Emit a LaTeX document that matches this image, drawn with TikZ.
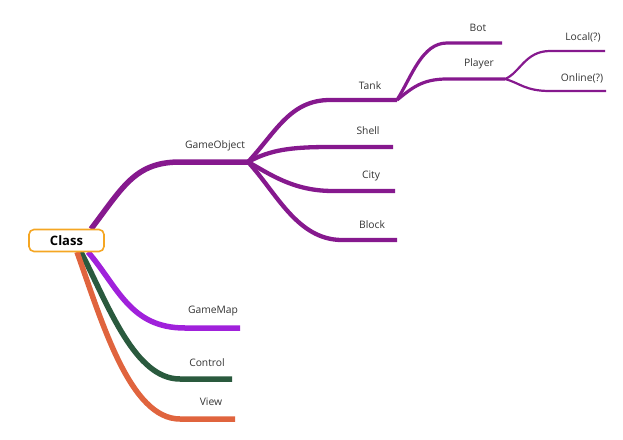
\documentclass[tikz,border=0pt]{standalone}
\usepackage{fontspec}
\setmainfont{Open Sans}
\definecolor{objpurple}{HTML}{86198E}
\definecolor{mapviolet}{HTML}{A021DB}
\definecolor{ctrlgreen}{HTML}{2A5A3E}
\definecolor{vieworange}{HTML}{E0643E}
\definecolor{boxorange}{HTML}{F5A623}
\definecolor{labelgray}{HTML}{333333}
\tikzset{
  lbl/.style={font=\fontsize{10.3}{12}\selectfont, text=labelgray, inner sep=0pt},
  br1/.style={line width=5.5pt, line cap=butt},
  br2/.style={line width=4.3pt, objpurple, line cap=butt},
  br3/.style={line width=3.2pt, objpurple, line cap=butt},
  br4/.style={line width=2.2pt, objpurple, line cap=butt},
  rootbox/.style={draw=boxorange, line width=1.6pt, fill=white, rounded corners=5pt,
    minimum width=75pt, minimum height=22pt, inner sep=0pt,
    font=\fontsize{13}{15}\selectfont\bfseries}
}
\begin{document}
\begin{tikzpicture}[x=1pt,y=-1pt]
\useasboundingbox (0,0) rectangle (623,439);
% coordinates
\coordinate (gos) at (91,229);
\coordinate (gok) at (180,162);
\coordinate (goe) at (248,162);
\coordinate (tk) at (330,100);  \coordinate (te) at (397,100);
\coordinate (sk) at (330,147);  \coordinate (se) at (393,147);
\coordinate (ck) at (333,191);  \coordinate (ce) at (395,191);
\coordinate (bk) at (342,240);  \coordinate (be) at (397,240);
\coordinate (botk) at (447,43); \coordinate (bote) at (502,43);
\coordinate (plk) at (447,79);  \coordinate (ple) at (505,79);
\coordinate (lok) at (550,51);  \coordinate (loe) at (605,51);
\coordinate (onk) at (550,91);  \coordinate (one) at (606,91);
\coordinate (gms) at (88,252);  \coordinate (gmk) at (185,328); \coordinate (gme) at (240,328);
\coordinate (cts) at (81,252);  \coordinate (ctk) at (180,379); \coordinate (cte) at (232,379);
\coordinate (vws) at (77,252);  \coordinate (vwk) at (180,419); \coordinate (vwe) at (235,419);
% lower branches
\draw[br1, ctrlgreen] (cts) .. controls +(28,55) and +(-45,0) .. (ctk) -- (cte);
\draw[br1, vieworange] (vws) .. controls +(25,70) and +(-50,0) .. (vwk) -- (vwe);
\draw[br1, mapviolet] (gms) .. controls +(30,35) and +(-55,0) .. (gmk) -- (gme);
% GameObject
\draw[br1, objpurple] (gos) .. controls +(32,-42) and +(-45,0) .. (gok) -- (goe);
\draw[br2] (goe) .. controls +(28,-30) and +(-40,0) .. (tk) -- (te);
\draw[br2] (goe) .. controls +(22,-12) and +(-40,0) .. (sk) -- (se);
\draw[br2] (goe) .. controls +(22,12) and +(-40,0) .. (ck) -- (ce);
\draw[br2] (goe) .. controls +(28,30) and +(-45,0) .. (bk) -- (be);
\draw[br3] (te) .. controls +(15,-24) and +(-25,0) .. (botk) -- (bote);
\draw[br3] (te) .. controls +(15,-12) and +(-25,0) .. (plk) -- (ple);
\draw[br4] (ple) .. controls +(15,-6) and +(-25,0) .. (lok) -- (loe);
\draw[br4] (ple) .. controls +(15,4) and +(-25,0) .. (onk) -- (one);
% root
\node[rootbox] (root) at (66.5,240.5) {Class};
% labels
\node[lbl] (lgo) at (215,146) {GameObject};
\node[lbl] (ltank) at (370,86) {Tank};
\node[lbl] (lshell) at (368,131) {Shell};
\node[lbl] (lcity) at (371,176) {City};
\node[lbl] (lblock) at (372,225) {Block};
\node[lbl] (lbot) at (478,28) {Bot};
\node[lbl] (lplayer) at (479,64) {Player};
\node[lbl] (llocal) at (583,37) {Local(?)};
\node[lbl] (lonline) at (582,78) {Online(?)};
\node[lbl] (lgm) at (213,311) {GameMap};
\node[lbl] (lctrl) at (207,363) {Control};
\node[lbl] (lview) at (211,402) {View};
\end{tikzpicture}
\end{document}
